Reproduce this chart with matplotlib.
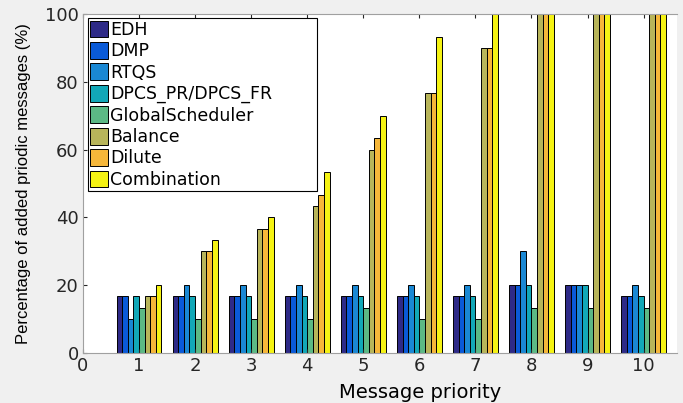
import numpy as np
import matplotlib.pyplot as plt

plt.rcParams['font.family'] = ['DejaVu Sans']

priorities = np.arange(1, 11)
methods = ['EDH', 'DMP', 'RTQS', 'DPCS_PR/DPCS_FR', 'GlobalScheduler',
           'Balance', 'Dilute', 'Combination']

edh = [16.7, 16.7, 16.7, 16.7, 16.7, 16.7, 16.7, 20, 20, 16.7]
dmp = [16.7, 16.7, 16.7, 16.7, 16.7, 16.7, 16.7, 20, 20, 16.7]
rtqs = [10, 20, 20, 20, 20, 20, 20, 30, 20, 20]
dpcs = [16.7, 16.7, 16.7, 16.7, 16.7, 16.7, 16.7, 20, 20, 16.7]
glob = [13.3, 10, 10, 10, 13.3, 10, 10, 13.3, 13.3, 13.3]
balance = [16.7, 30, 36.7, 43.3, 60, 76.7, 90, 100, 100, 100]
dilute = [16.7, 30, 36.7, 46.7, 63.3, 76.7, 90, 100, 100, 100]
combination = [20, 33.3, 40, 53.3, 70, 93.3, 100, 100, 100, 100]

series = [edh, dmp, rtqs, dpcs, glob, balance, dilute, combination]
colors = ['#2e2a87', '#0a5ad8', '#1a88d4', '#12a8b8', '#5cb985',
          '#b8b55a', '#f6b73a', '#f5f314']

fig = plt.figure(figsize=(6.83, 4.03), dpi=100, facecolor='#f0f0f0')
ax = fig.add_axes([0.1215, 0.124, 0.87, 0.841])

w = 0.1
for i, (vals, c, name) in enumerate(zip(series, colors, methods)):
    offs = (i - 3.5) * w
    ax.bar(priorities + offs, vals, width=w, color=c, edgecolor='black',
           linewidth=0.7, label=name)

ax.set_xlim(0, 10.6)
ax.set_ylim(0, 100)
ax.set_xticks(range(0, 11))
ax.set_yticks(range(0, 101, 20))
ax.tick_params(direction='in', labelsize=13, colors='#262626', length=3,
               top=True, right=False, pad=3)
ax.spines['right'].set_visible(False)
for s in ['left', 'top', 'bottom']:
    ax.spines[s].set_color('#a0a0a0')
ax.set_xlabel('Message priority', fontsize=14)
ax.xaxis.set_label_coords(0.567, -0.088)
ax.set_ylabel('Percentage of added priodic messages (%)', fontsize=12,
              family='Liberation Sans', labelpad=10)

leg = ax.legend(loc='upper left', bbox_to_anchor=(0.008, 0.988, 0.385, 0.0),
                mode='expand', fontsize=12.5, handlelength=1.0,
                handleheight=1.1, handletextpad=0.15, labelspacing=0.18,
                borderaxespad=0.0, borderpad=0.15, fancybox=False,
                framealpha=1)
leg.get_frame().set_edgecolor('black')
leg.get_frame().set_linewidth(0.8)

fig.savefig('out.png', dpi=100, facecolor=fig.get_facecolor())
